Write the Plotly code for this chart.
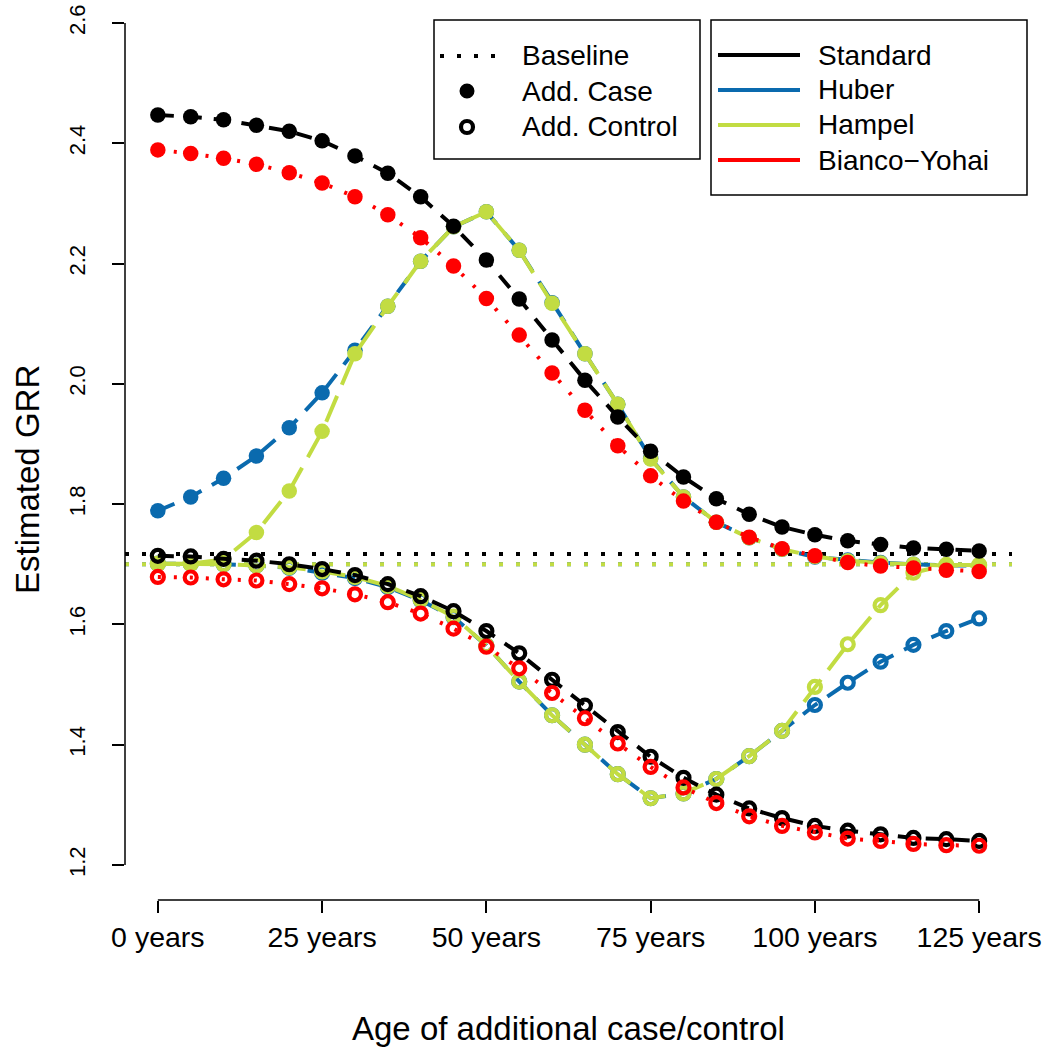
import plotly.graph_objects as go

# Age of the additional case/control (years)
ages = [0, 5, 10, 15, 20, 25, 30, 35, 40, 45, 50, 55, 60, 65, 70, 75, 80, 85, 90, 95, 100, 105, 110, 115, 120, 125]

# Estimated GRR after adding one case (filled) / one control (open)
standard_case = [2.447, 2.444, 2.439, 2.430, 2.420, 2.404, 2.379, 2.350, 2.311, 2.262, 2.206, 2.141, 2.073,
                 2.006, 1.945, 1.888, 1.845, 1.809, 1.783, 1.762, 1.749, 1.739, 1.733, 1.727, 1.725, 1.722]
standard_ctrl = [1.714, 1.713, 1.709, 1.706, 1.700, 1.692, 1.682, 1.667, 1.647, 1.622, 1.589, 1.552, 1.508,
                 1.465, 1.421, 1.380, 1.345, 1.317, 1.294, 1.278, 1.265, 1.257, 1.251, 1.245, 1.243, 1.240]
huber_case = [1.789, 1.812, 1.843, 1.880, 1.927, 1.985, 2.056, 2.129, 2.204, 2.261, 2.286, 2.222, 2.135,
              2.050, 1.966, 1.876, 1.812, 1.770, 1.744, 1.725, 1.712, 1.707, 1.703, 1.700, 1.698, 1.698]
huber_ctrl = [1.701, 1.701, 1.700, 1.698, 1.694, 1.686, 1.677, 1.662, 1.640, 1.612, 1.565, 1.505, 1.449,
              1.400, 1.351, 1.311, 1.319, 1.343, 1.381, 1.423, 1.466, 1.503, 1.538, 1.566, 1.589, 1.610]
hampel_case = [1.701, 1.701, 1.708, 1.753, 1.822, 1.921, 2.050, 2.129, 2.204, 2.261, 2.286, 2.222, 2.134,
               2.050, 1.966, 1.875, 1.812, 1.770, 1.744, 1.725, 1.713, 1.706, 1.702, 1.700, 1.698, 1.698]
hampel_ctrl = [1.701, 1.701, 1.700, 1.698, 1.695, 1.688, 1.679, 1.664, 1.641, 1.613, 1.565, 1.505, 1.449,
               1.400, 1.351, 1.311, 1.319, 1.343, 1.381, 1.423, 1.496, 1.567, 1.632, 1.686, 1.699, 1.699]
by_case = [2.389, 2.383, 2.375, 2.365, 2.351, 2.334, 2.311, 2.281, 2.243, 2.196, 2.142, 2.081, 2.018,
           1.956, 1.897, 1.847, 1.805, 1.770, 1.745, 1.726, 1.714, 1.703, 1.697, 1.694, 1.690, 1.688]
by_ctrl = [1.679, 1.678, 1.675, 1.673, 1.667, 1.660, 1.650, 1.637, 1.618, 1.593, 1.563, 1.527, 1.486,
           1.444, 1.402, 1.363, 1.329, 1.303, 1.281, 1.265, 1.254, 1.244, 1.240, 1.235, 1.233, 1.232]

# GRR estimated on the original sample
baseline = {"Standard": 1.717, "Huber": 1.700, "Hampel": 1.700}

methods = ["Standard", "Huber", "Hampel", "Bianco\u2212Yohai"]
x_ticks = [0, 25, 50, 75, 100, 125]
x_ticklabels = ["0 years", "25 years", "50 years", "75 years", "100 years", "125 years"]
y_ticks = [1.2, 1.4, 1.6, 1.8, 2.0, 2.2, 2.4, 2.6]
y_ticklabels = ["1.2", "1.4", "1.6", "1.8", "2.0", "2.2", "2.4", "2.6"]

colors = {"Standard": "#000000", "Huber": "#0A6AAE", "Hampel": "#C2DC42", "Bianco\u2212Yohai": "#FF0000"}
dashes = {"Standard": "16px,12px", "Huber": "18px,12px", "Hampel": "28px,12px", "Bianco\u2212Yohai": "3px,13px"}
series = {
    "Standard": (standard_case, standard_ctrl),
    "Huber": (huber_case, huber_ctrl),
    "Hampel": (hampel_case, hampel_ctrl),
    "Bianco\u2212Yohai": (by_case, by_ctrl),
}

FONT = "Liberation Sans, Arial, Helvetica, sans-serif"
W, H = 1050, 1048
ML, MR, MT, MB = 125, 38, 0, 148
PW, PH = W - ML - MR, H - MT - MB


def px(xpix):
    return (xpix - ML) / PW


def py(ypix):
    return (MT + PH - ypix) / PH


fig = go.Figure()

# horizontal baselines across the whole panel
for name in ["Huber", "Hampel", "Standard"]:
    fig.add_trace(go.Scatter(
        x=[-5, 130], y=[baseline[name]] * 2, mode="lines",
        line=dict(color=colors[name], width=4, dash="4px,13px"),
        hoverinfo="skip", showlegend=False))

# case / control curves
for name in ["Huber", "Hampel", "Standard", "Bianco\u2212Yohai"]:
    case, ctrl = series[name]
    fig.add_trace(go.Scatter(
        x=ages, y=case, mode="lines+markers", name=name + " case",
        line=dict(color=colors[name], width=4, dash=dashes[name]),
        marker=dict(symbol="circle", size=15.5, color=colors[name], line=dict(width=0)),
        showlegend=False))
    fig.add_trace(go.Scatter(
        x=ages, y=ctrl, mode="lines+markers", name=name + " control",
        line=dict(color=colors[name], width=4, dash=dashes[name]),
        marker=dict(symbol="circle-open", size=12, color=colors[name], line=dict(width=4.2)),
        showlegend=False))

shapes = []
annotations = []

# R-style axis lines that stop at the outer ticks
shapes.append(dict(type="line", xref="x", yref="paper", x0=0, x1=125, y0=0, y1=0,
                   line=dict(color="#000000", width=1.5)))
shapes.append(dict(type="line", xref="paper", yref="y", x0=0, x1=0, y0=1.2, y1=2.6,
                   line=dict(color="#000000", width=1.5)))

# legend boxes
shapes.append(dict(type="rect", xref="paper", yref="paper", x0=px(434), x1=px(700), y0=py(20), y1=py(159),
                   line=dict(color="#000000", width=1.5), fillcolor="rgba(255,255,255,0)"))
shapes.append(dict(type="rect", xref="paper", yref="paper", x0=px(711), x1=px(1027), y0=py(20), y1=py(195),
                   line=dict(color="#000000", width=1.5), fillcolor="rgba(255,255,255,0)"))

# left legend: symbol meaning
shapes.append(dict(type="line", xref="paper", yref="paper", x0=px(440), x1=px(497), y0=py(56), y1=py(56),
                   line=dict(color="#000000", width=4, dash="4px,13px")))
shapes.append(dict(type="circle", xref="paper", yref="paper", xsizemode="pixel", ysizemode="pixel",
                   xanchor=px(467), yanchor=py(91), x0=-7.5, x1=7.5, y0=-7.5, y1=7.5,
                   fillcolor="#000000", line=dict(width=0)))
shapes.append(dict(type="circle", xref="paper", yref="paper", xsizemode="pixel", ysizemode="pixel",
                   xanchor=px(467), yanchor=py(127), x0=-6, x1=6, y0=-6, y1=6,
                   fillcolor="rgba(255,255,255,0)", line=dict(color="#000000", width=4.2)))
for label, ypix in zip(["Baseline", "Add. Case", "Add. Control"], [56, 91, 127]):
    annotations.append(dict(text=label, xref="paper", yref="paper", x=px(520), y=py(ypix),
                            xanchor="left", yanchor="middle", showarrow=False,
                            font=dict(family=FONT, size=28, color="#000000")))

# right legend: estimation method
for name, ypix in zip(methods, [55, 90, 125, 160]):
    shapes.append(dict(type="line", xref="paper", yref="paper", x0=px(718), x1=px(800), y0=py(ypix),
                       y1=py(ypix), line=dict(color=colors[name], width=4)))
    annotations.append(dict(text=name, xref="paper", yref="paper", x=px(816), y=py(ypix),
                            xanchor="left", yanchor="middle", showarrow=False,
                            font=dict(family=FONT, size=28, color="#000000")))

# axis titles
annotations.append(dict(text="Age of additional case/control", xref="paper", yref="paper",
                        x=px(568), y=py(1028), xanchor="center", yanchor="middle", showarrow=False,
                        font=dict(family=FONT, size=33, color="#000000")))
annotations.append(dict(text="Estimated GRR", xref="paper", yref="paper", textangle=-90,
                        x=px(27), y=py(480), xanchor="center", yanchor="middle", showarrow=False,
                        font=dict(family=FONT, size=33, color="#000000")))

fig.update_layout(
    width=W, height=H,
    margin=dict(l=ML, r=MR, t=MT, b=MB, pad=0),
    paper_bgcolor="white", plot_bgcolor="white",
    font=dict(family=FONT, color="#000000"),
    showlegend=False,
    shapes=shapes,
    annotations=annotations,
    xaxis=dict(range=[-5, 130], tickmode="array", tickvals=x_ticks, ticktext=x_ticklabels,
               ticks="outside", ticklen=12, tickwidth=1.5, tickcolor="#000000",
               tickfont=dict(family=FONT, size=28.5, color="#000000"),
               showgrid=False, zeroline=False, showline=False),
    yaxis=dict(range=[1.1418, 2.6382], tickmode="array", tickvals=y_ticks, ticktext=y_ticklabels,
               ticks="outside", ticklen=12, tickwidth=1.5, tickcolor="#000000", tickangle=-90,
               ticklabelstandoff=18,
               tickfont=dict(family=FONT, size=22, color="#000000"),
               showgrid=False, zeroline=False, showline=False),
)

fig.write_html("out.html")
